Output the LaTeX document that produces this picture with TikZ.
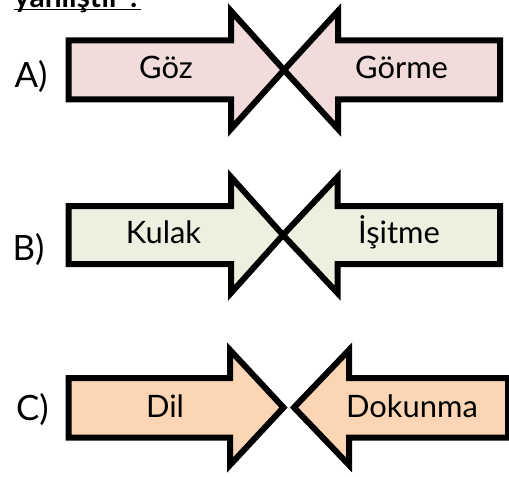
\documentclass[tikz,border=0pt]{standalone}
\usepackage{fontspec}
\setmainfont{Lato}
\usepackage{tikz}

\definecolor{pinkfill}{HTML}{F2DCDB}
\definecolor{greenfill}{HTML}{EBF1DE}
\definecolor{peachfill}{HTML}{FCD5B5}

\begin{document}
\begin{tikzpicture}[x=1bp, y=-1bp,
	arrowshape/.style={draw=black, line width=6bp, line join=miter},
	word/.style={anchor=base, inner sep=0pt, font=\fontsize{31}{31}\selectfont},
	choice/.style={anchor=base, inner sep=0pt, font=\fontsize{35}{35}\selectfont}]

	\useasboundingbox (0, 0) rectangle (509, 477);

	% question line (cut at the top)
	\node[anchor=base west, inner sep=0pt, font=\fontsize{30}{30}\selectfont\bfseries] (soru) at (14, 7.5) {yanlıştır ?};
	\draw[line width=1.3bp] ([yshift=-2bp]soru.base west) -- ([yshift=-2bp]soru.base east); % underline

	% A) row
	\draw[arrowshape, fill=pinkfill] (68.5, 40.5) -- (231, 40.5) -- (231, 11) -- (284, 70) -- (231, 129) -- (231, 99.5) -- (68.5, 99.5) -- cycle; % left
	\draw[arrowshape, fill=pinkfill] (500, 40.5) -- (338, 40.5) -- (338, 11) -- (284, 70) -- (338, 129) -- (338, 99.5) -- (500, 99.5) -- cycle; % right
	\node[word] (goz) at (166, 79) {Göz};
	\node[word] (gorme) at (401.5, 79) {Görme};
	\node[choice] (lblA) at (31, 88) {A)};

	% B) row
	\draw[arrowshape, fill=greenfill] (68.5, 206) -- (231, 206) -- (231, 177) -- (283, 235) -- (231, 293) -- (231, 264) -- (68.5, 264) -- cycle; % left
	\draw[arrowshape, fill=greenfill] (500, 206) -- (337.5, 206) -- (337.5, 177) -- (283, 235) -- (337.5, 293) -- (337.5, 264) -- (500, 264) -- cycle; % right
	\node[word] (kulak) at (163.5, 243) {Kulak};
	\node[word] (isitme) at (399, 243) {İşitme};
	\node[choice] (lblB) at (28.5, 260) {B)};

	% C) row
	\draw[arrowshape, fill=peachfill] (68.5, 378) -- (230, 378) -- (230, 350) -- (283.5, 407.5) -- (230, 465) -- (230, 437.5) -- (68.5, 437.5) -- cycle; % left
	\draw[arrowshape, fill=peachfill] (508, 378) -- (349, 378) -- (349, 350) -- (294, 407.5) -- (349, 465) -- (349, 437.5) -- (508, 437.5) -- cycle; % right
	\node[word] (dil) at (165, 417) {Dil};
	\node[word] (dokunma) at (412, 417) {Dokunma};
	\node[choice] (lblC) at (32.5, 420) {C)};

\end{tikzpicture}
\end{document}
